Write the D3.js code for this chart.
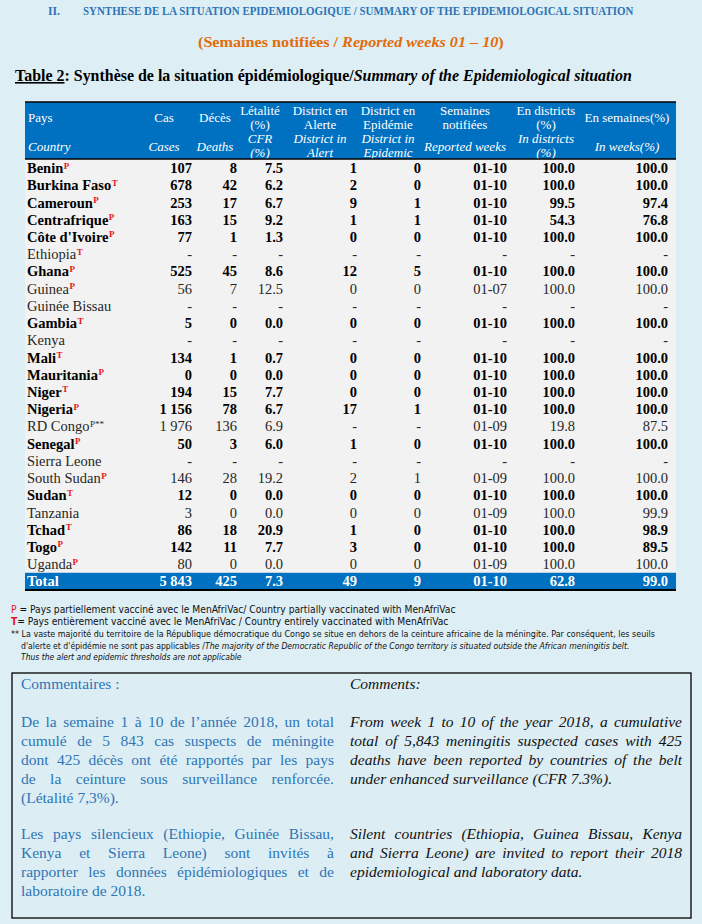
<!DOCTYPE html>
<html>
<head>
<meta charset="utf-8">
<script src="https://cdn.jsdelivr.net/npm/d3@7"></script>
<style>
  body { margin: 0; background: #ddeef5; }
  svg { display: block; }
</style>
</head>
<body>
<svg id="page" width="702" height="924"></svg>
<script>
const countries = ["Benin", "Burkina Faso", "Cameroun", "Centrafrique", "Côte d'Ivoire", "Ethiopia", "Ghana", "Guinea",
  "Guinée Bissau", "Gambia", "Kenya", "Mali", "Mauritania", "Niger", "Nigeria", "RD Congo", "Senegal", "Sierra Leone",
  "South Sudan", "Sudan", "Tanzania", "Tchad", "Togo", "Uganda"];
const vaccination = ["P", "T", "P", "P", "P", "T", "P", "P", "", "T", "", "T", "P", "T", "P", "P**", "P", "", "P", "T", "", "T", "P", "P"];
const cases = [107, 678, 253, 163, 77, null, 525, 56, null, 5, null, 134, 0, 194, 1156, 1976, 50, null, 146, 12, 3, 86, 142, 80];
const deaths = [8, 42, 17, 15, 1, null, 45, 7, null, 0, null, 1, 0, 15, 78, 136, 3, null, 28, 0, 0, 18, 11, 0];
const cfr = [7.5, 6.2, 6.7, 9.2, 1.3, null, 8.6, 12.5, null, 0, null, 0.7, 0, 7.7, 6.7, 6.9, 6.0, null, 19.2, 0, 0, 20.9, 7.7, 0];
const alertDistricts = [1, 2, 9, 1, 0, null, 12, 0, null, 0, null, 0, 0, 0, 17, null, 1, null, 2, 0, 0, 1, 3, 0];
const epidemicDistricts = [0, 0, 1, 1, 0, null, 5, 0, null, 0, null, 0, 0, 0, 1, null, 0, null, 1, 0, 0, 0, 0, 0];
const reportedWeeks = ["01-10", "01-10", "01-10", "01-10", "01-10", null, "01-10", "01-07", null, "01-10", null, "01-10",
  "01-10", "01-10", "01-10", "01-09", "01-10", null, "01-09", "01-10", "01-09", "01-10", "01-10", "01-09"];
const districtCompleteness = [100, 100, 99.5, 54.3, 100, null, 100, 100, null, 100, null, 100, 100, 100, 100, 19.8, 100, null, 100, 100, 100, 100, 100, 100];
const weekCompleteness = [100, 100, 97.4, 76.8, 100, null, 100, 100, null, 100, null, 100, 100, 100, 100, 87.5, 100, null, 100, 100, 99.9, 98.9, 89.5, 100];
const totals = [5843, 425, 7.3, 49, 9, "01-10", 62.8, 99.0];

const headerFr = [["Pays"], ["Cas"], ["Décès"], ["Létalité", "(%)"], ["District en", "Alerte"], ["District en", "Epidémie"],
  ["Semaines", "notifiées"], ["En districts", "(%)"], ["En semaines(%)"]];
const headerEn = [["Country"], ["Cases"], ["Deaths"], ["CFR", "(%)"], ["District in", "Alert"], ["District in", "Epidemic"],
  ["Reported weeks"], ["In districts", "(%)"], ["In weeks(%)"]];

const commentsFr = [
  ["De la semaine 1 à 10 de l’année 2018, un total", "cumulé de 5 843 cas suspects de méningite",
   "dont 425 décès ont été rapportés par les pays", "de la ceinture sous surveillance renforcée.", "(Létalité 7,3%)."],
  ["Les pays silencieux (Ethiopie, Guinée Bissau,", "Kenya et Sierra Leone) sont invités à",
   "rapporter les données épidémiologiques et de", "laboratoire de 2018."]
];
const commentsEn = [
  ["From week 1 to 10 of the year 2018, a cumulative", "total of 5,843 meningitis suspected cases with 425",
   "deaths have been reported by countries of the belt", "under enhanced surveillance (CFR 7.3%)."],
  ["Silent countries (Ethiopia, Guinea Bissau, Kenya", "and Sierra Leone) are invited to report their 2018",
   "epidemiological and laboratory data."]
];

const svg = d3.select("#page");
const serif = "'Liberation Serif', 'Times New Roman', serif";
const narrow = "'Liberation Sans Narrow', 'DejaVu Sans Condensed', 'Liberation Sans', sans-serif";
const blue = "#0070c0";

// squeeze or stretch a text element so it spans [x, x + w]
function fit(sel, x, w) {
  const bb = sel.node().getBBox();
  sel.attr("transform", `translate(${x},0) scale(${w / bb.width},1)`);
}

// ---- headings ----
let t = svg.append("text").attr("x", 0).attr("y", 15.5).attr("font-family", serif)
  .attr("font-weight", "bold").attr("font-size", 12).attr("fill", "#2e74b5")
  .text("II.");
fit(t, 48, 12);
t = svg.append("text").attr("x", 0).attr("y", 15.5).attr("font-family", serif)
  .attr("font-weight", "bold").attr("font-size", 12).attr("fill", "#2e74b5")
  .text("SYNTHESE DE LA SITUATION EPIDEMIOLOGIQUE / SUMMARY OF THE EPIDEMIOLOGICAL SITUATION");
fit(t, 83, 551);

t = svg.append("text").attr("x", 0).attr("y", 47).attr("font-family", serif)
  .attr("font-weight", "bold").attr("font-size", 15.5).attr("fill", "#e36c09");
t.append("tspan").text("(Semaines notifiées / ");
t.append("tspan").attr("font-style", "italic").text("Reported weeks 01 – 10");
t.append("tspan").text(")");
fit(t, 198, 306);

t = svg.append("text").attr("x", 0).attr("y", 81).attr("font-family", serif)
  .attr("font-weight", "bold").attr("font-size", 16).attr("fill", "#000");
t.append("tspan").attr("text-decoration", "underline").text("Table 2");
t.append("tspan").text(": Synthèse de la situation épidémiologique/");
t.append("tspan").attr("font-style", "italic").text("Summary of the Epidemiological situation");
fit(t, 15, 617);

// ---- table ----
const tableLeft = 25, tableRight = 676;
const headTop = 102, headBottom = 159;
const nRows = countries.length + 1;
const y = d3.scaleBand().domain(d3.range(nRows)).range([headBottom + 0.5, 590]);

const colKeys = ["country", "cases", "deaths", "cfr", "alert", "epidemic", "weeks", "pctDistricts", "pctWeeks"];
// right edge of each value column (country column is left aligned)
const colX = d3.scaleOrdinal().domain(colKeys).range([27, 192, 237, 283, 357, 421, 507, 575, 668]);
const headX = d3.scaleOrdinal().domain(colKeys).range([28, 164, 215, 260, 320, 388, 465, 546, 627]);

const fmtInt = d3.formatLocale({ decimal: ".", thousands: "\u00a0", grouping: [3], currency: ["", ""] }).format(",d");
const fmt1 = d3.format(".1f");

svg.append("rect").attr("x", tableLeft).attr("y", headTop).attr("width", tableRight - tableLeft)
  .attr("height", headBottom - headTop).attr("fill", blue);
svg.append("rect").attr("x", tableLeft).attr("y", headBottom).attr("width", tableRight - tableLeft)
  .attr("height", y(nRows - 1) - headBottom).attr("fill", "#f2f2f2");
svg.append("rect").attr("x", tableLeft).attr("y", y(nRows - 1)).attr("width", tableRight - tableLeft)
  .attr("height", y.bandwidth()).attr("fill", blue);

// header labels
const head = svg.append("g").attr("font-family", serif).attr("font-size", 13).attr("fill", "#fff");
function headerBlock(labels, italic, oneY, twoY) {
  labels.forEach((lines, i) => {
    const key = colKeys[i];
    const txt = head.append("text")
      .attr("text-anchor", i === 0 ? "start" : "middle")
      .attr("font-style", italic ? "italic" : null);
    lines.forEach((line, j) => {
      txt.append("tspan").attr("x", headX(key))
        .attr("y", (lines.length === 1 ? oneY : twoY[j]) + 4.5)
        .text(line);
    });
  });
}
headerBlock(headerFr, false, 117, [110, 124]);
headerBlock(headerEn, true, 146, [138, 152]);

// body rows
const rows = countries.map((c, i) => ({
  name: c, sup: vaccination[i],
  values: [cases[i] == null ? "-" : fmtInt(cases[i]),
    deaths[i] == null ? "-" : fmtInt(deaths[i]),
    cfr[i] == null ? "-" : fmt1(cfr[i]),
    alertDistricts[i] == null ? "-" : fmtInt(alertDistricts[i]),
    epidemicDistricts[i] == null ? "-" : fmtInt(epidemicDistricts[i]),
    reportedWeeks[i] == null ? "-" : reportedWeeks[i],
    districtCompleteness[i] == null ? "-" : fmt1(districtCompleteness[i]),
    weekCompleteness[i] == null ? "-" : fmt1(weekCompleteness[i])],
  bold: reportedWeeks[i] === "01-10",
  total: false
}));
rows.push({
  name: "Total", sup: "",
  values: totals.map((v, k) => k === 5 ? v : (k === 2 || k >= 6 ? fmt1(v) : fmtInt(v))),
  bold: true, total: true
});

const body = svg.append("g").attr("font-family", serif).attr("font-size", 14.5);
const rowG = body.selectAll("g.row").data(rows).join("g").attr("class", "row")
  .attr("transform", (d, i) => `translate(0,${y(i) + y.bandwidth() / 2 + 5})`)
  .attr("font-weight", d => d.bold ? "bold" : "normal")
  .attr("fill", d => d.total ? "#fff" : (d.bold ? "#000" : "#262626"));

const nameText = rowG.append("text").attr("x", colX("country"));
nameText.append("tspan").text(d => d.name);
nameText.filter(d => d.sup).append("tspan")
  .attr("font-size", 9).attr("font-weight", d => d.sup.includes("*") ? "normal" : "bold")
  .attr("dx", 0.5).attr("dy", -4.5)
  .attr("fill", d => d.sup.includes("*") ? "#262626" : "#e8141c")
  .text(d => d.sup);

rowG.selectAll("text.val").data(d => d.values.map((v, k) => ({ v, key: colKeys[k + 1] })))
  .join("text").attr("class", "val")
  .attr("x", d => colX(d.key)).attr("text-anchor", "end")
  .text(d => d.v);

// rules
[[headTop, 1.5], [headBottom, 1.6], [590, 2.2]].forEach(([yy, w]) => {
  svg.append("line").attr("x1", tableLeft).attr("x2", tableRight).attr("y1", yy).attr("y2", yy)
    .attr("stroke", "#000").attr("stroke-width", w);
});

// ---- footnotes ----
const notes = svg.append("g").attr("font-family", narrow).attr("fill", "#111");
t = notes.append("text").attr("x", 0).attr("y", 613).attr("font-size", 10);
t.append("tspan").attr("fill", "#e8141c").text("P");
t.append("tspan").text(" = Pays partiellement vacciné avec le MenAfriVac/ Country partially  vaccinated with MenAfriVac");
fit(t, 11, 445);
t = notes.append("text").attr("x", 0).attr("y", 625).attr("font-size", 10);
t.append("tspan").attr("fill", "#e8141c").attr("font-weight", "bold").text("T");
t.append("tspan").text("= Pays entièrement vacciné avec le MenAfriVac / Country entirely  vaccinated with MenAfriVac");
fit(t, 11, 438);
t = notes.append("text").attr("x", 0).attr("y", 637).attr("font-size", 9)
  .text("** La vaste majorité du territoire de la République démocratique du Congo se situe en dehors de la ceinture africaine de la méningite. Par conséquent, les seuils");
fit(t, 11, 645);
t = notes.append("text").attr("x", 0).attr("y", 649).attr("font-size", 9);
t.append("tspan").text("d'alerte et d'épidémie ne sont pas applicables /");
t.append("tspan").attr("font-style", "italic").text("The majority of the Democratic Republic of the Congo territory is situated outside the African meningitis belt.");
fit(t, 21, 609);
t = notes.append("text").attr("x", 0).attr("y", 660).attr("font-size", 9).attr("font-style", "italic")
  .text("Thus the alert and epidemic thresholds are not applicable");
fit(t, 21, 221);

// ---- comments box ----
svg.append("rect").attr("x", 12).attr("y", 673).attr("width", 679).attr("height", 245)
  .attr("fill", "#dcedf4").attr("stroke", "#000").attr("stroke-width", 1.3);

const cg = svg.append("g").attr("font-family", serif).attr("font-size", 15.5);

function justifiedLine(g, words, x0, x1, yy, justify) {
  const txt = g.append("text").attr("y", yy);
  const spans = words.map(w => txt.append("tspan").text(w));
  const widths = spans.map(s => s.node().getComputedTextLength());
  const space = 15.5 * 0.25;
  const gap = justify && words.length > 1
    ? (x1 - x0 - d3.sum(widths)) / (words.length - 1)
    : space;
  let x = x0;
  spans.forEach((s, i) => { s.attr("x", x); x += widths[i] + gap; });
}

function commentColumn(title, paragraphs, x0, x1, color, italic) {
  const g = cg.append("g").attr("fill", color).attr("font-style", italic ? "italic" : null);
  g.append("text").attr("x", x0).attr("y", 689).text(title);
  const starts = [727, 839];
  paragraphs.forEach((lines, p) => {
    lines.forEach((line, j) => {
      justifiedLine(g, line.split(" "), x0, x1, starts[p] + j * 18.9, j < lines.length - 1);
    });
  });
}
commentColumn("Commentaires :", commentsFr, 21, 334, "#2e75b6", false);
commentColumn("Comments:", commentsEn, 350, 682, "#111", true);
</script>
</body>
</html>
